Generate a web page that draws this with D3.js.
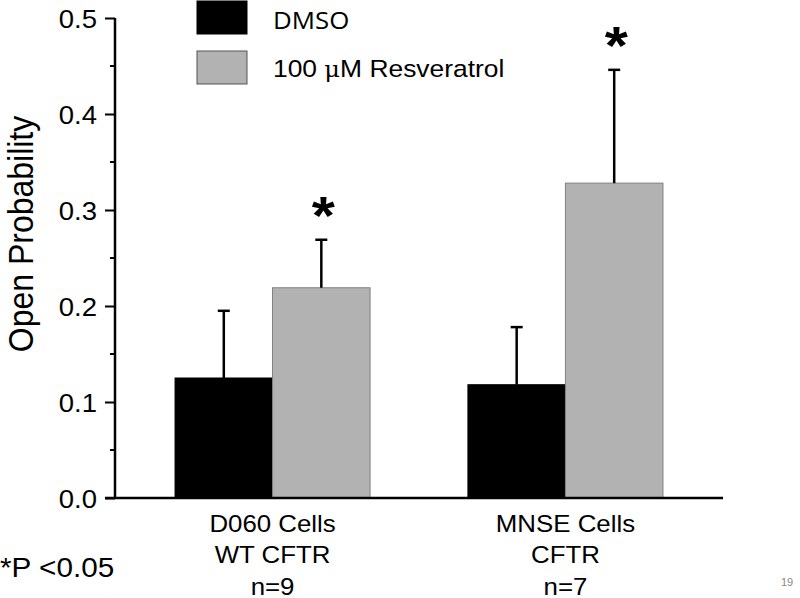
<!DOCTYPE html>
<html>
<head>
<meta charset="utf-8">
<script src="https://cdn.jsdelivr.net/npm/d3@7"></script>
<style>
  body { margin: 0; background: #fff; }
  svg { display: block; font-family: "Liberation Sans", Arial, sans-serif; }
</style>
</head>
<body>
<svg width="800" height="598"></svg>
<script>
const groups = ["D060", "MNSE"];
const groupLines = [["D060 Cells", "WT CFTR", "n=9"], ["MNSE Cells", "CFTR", "n=7"]];
const series = ["DMSO", "100 \u03bcM Resveratrol"];
const dmso = [0.125, 0.118];
const dmsoErr = [0.070, 0.060];
const resv = [0.219, 0.328];
const resvErr = [0.050, 0.118];
const significant = [true, true];
const yTicks = [0.0, 0.1, 0.2, 0.3, 0.4, 0.5];
const yMinor = [0.05, 0.15, 0.25, 0.35, 0.45];

const svg = d3.select("svg");
const colors = ["#000000", "#b2b2b2"];
const SX = 1.1; // the original slide text is a bit wider than Arial

// text placed at x,y and stretched horizontally
function label(x, y, size, txt, anchor) {
  return svg.append("text")
    .attr("transform", `translate(${x},${y}) scale(${SX},1)`)
    .attr("text-anchor", anchor || "start")
    .attr("font-size", size)
    .text(txt);
}

const y = d3.scaleLinear().domain([0, 0.5]).range([498, 18]);
const x0 = d3.scaleBand().domain(groups).range([115, 723]).paddingInner(0.334).paddingOuter(0.205);
const x1 = d3.scaleBand().domain([0, 1]).range([0, x0.bandwidth()]);

const bars = [];
groups.forEach((g, i) => {
  bars.push({ g, s: 0, v: dmso[i], e: dmsoErr[i] });
  bars.push({ g, s: 1, v: resv[i], e: resvErr[i], star: significant[i] });
});

// bars
svg.append("g").selectAll("rect")
  .data(bars)
  .join("rect")
  .attr("x", d => x0(d.g) + x1(d.s))
  .attr("y", d => y(d.v))
  .attr("width", x1.bandwidth())
  .attr("height", d => y(0) - y(d.v))
  .attr("fill", d => colors[d.s])
  .attr("stroke", d => d.s ? "#808080" : "#000")
  .attr("stroke-width", 1);

// error bars, upper half only
const eb = svg.append("g").attr("stroke", "#000").attr("stroke-width", 2.5);
bars.forEach(d => {
  const cx = x0(d.g) + x1(d.s) + x1.bandwidth() / 2;
  const top = y(d.v + d.e);
  eb.append("line").attr("x1", cx).attr("x2", cx).attr("y1", y(d.v)).attr("y2", top);
  eb.append("line").attr("x1", cx - 6).attr("x2", cx + 6).attr("y1", top).attr("y2", top);
  if (d.star) {
    label(cx + 2, top - 6, 54, "*", "middle").attr("font-weight", "bold");
  }
});

// y axis
const yAxis = d3.axisLeft(y).tickValues(yTicks).tickFormat(d3.format(".1f")).tickSize(10).tickPadding(8);
const ya = svg.append("g").attr("transform", "translate(115,0)").call(yAxis);
ya.attr("font-size", null).attr("font-family", null);
ya.select(".domain").attr("stroke-width", 2.5).attr("d", `M0,${y(0.5)}V${y(0)}`);
ya.selectAll(".tick line").attr("stroke-width", 2);
ya.selectAll(".tick text")
  .attr("font-size", 25).attr("fill", "#000").attr("dy", "0.36em")
  .attr("x", -18 / SX).attr("transform", `scale(${SX},1)`);

const minor = svg.append("g").attr("stroke", "#000").attr("stroke-width", 2);
yMinor.forEach(v => {
  minor.append("line").attr("x1", 110).attr("x2", 115).attr("y1", y(v)).attr("y2", y(v));
});

// x axis
svg.append("line").attr("x1", 105).attr("x2", 723).attr("y1", y(0)).attr("y2", y(0))
  .attr("stroke", "#000").attr("stroke-width", 2.5);

// x labels
groups.forEach((g, i) => {
  const cx = x0(g) + x0.bandwidth() / 2;
  groupLines[i].forEach((l, k) => label(cx, 532 + k * 31.3, 23.5, l, "middle"));
});

// y label
svg.append("text")
  .attr("transform", `translate(33,234) scale(${SX},1) rotate(-90)`)
  .attr("text-anchor", "middle")
  .attr("font-size", 32)
  .text("Open Probability");

// legend
series.forEach((s, i) => {
  svg.append("rect")
    .attr("x", 197).attr("y", 1 + i * 50).attr("width", 50).attr("height", 33)
    .attr("fill", colors[i]).attr("stroke", i ? "#555" : "#000").attr("stroke-width", 1);
});
label(273, 29, 23.5, series[0]).attr("font-family", "Open Sans, sans-serif");
const lt = label(273, 77, 24, "");
lt.append("tspan").text("100 ");
lt.append("tspan").attr("font-family", "DejaVu Serif, serif").attr("font-size", 22).text("\u03bc");
lt.append("tspan").text("M Resveratrol");

label(0, 577, 27, "*P <0.05");
svg.append("text").attr("x", 781).attr("y", 586).attr("font-size", 11).attr("fill", "#888").text("19");
</script>
</body>
</html>
